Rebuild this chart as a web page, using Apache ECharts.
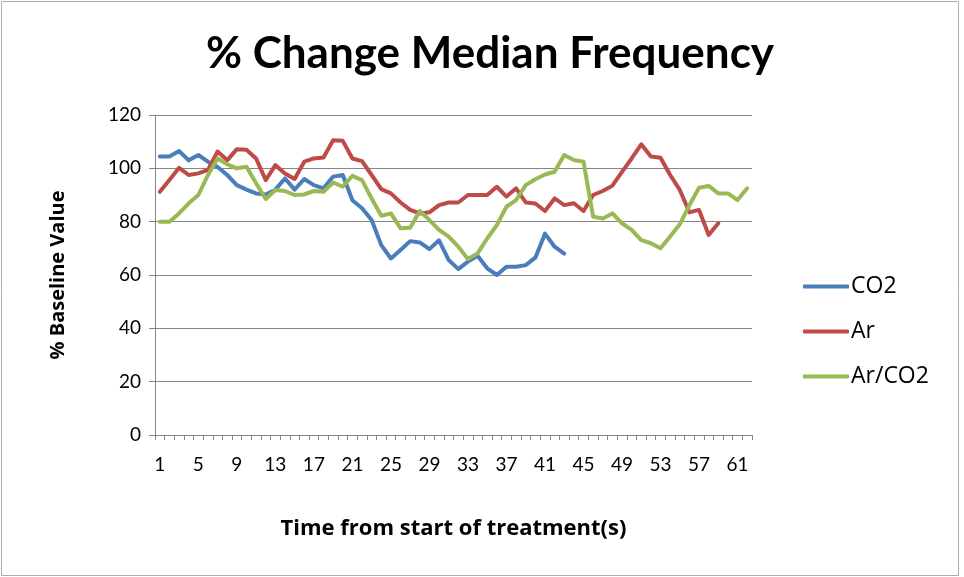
<!DOCTYPE html>
<html>
<head>
<meta charset="utf-8">
<script src="https://cdn.jsdelivr.net/npm/echarts@6/dist/echarts.min.js"></script>
<style>
html,body{margin:0;padding:0;background:#fff;}
#c{width:964px;height:577px;}
</style>
</head>
<body>
<div id="c"></div>
<script>
var categories = [];
for (var k = 1; k <= 62; k++) categories.push(String(k));

var co2 = [104.4,104.4,106.5,103,105,102.5,100.5,97.5,93.7,92,
  90.6,90.2,92,96.2,92,96,93.7,92.5,96.9,97.5,
  88,85,80.6,71.2,66.2,69.4,72.7,72.2,69.7,73,
  65.6,62.2,65,67.2,62.5,60,63.1,63.1,63.7,66.5,
  75.5,70.6,68];

var ar = [91.2,95.6,100.2,97.5,98.1,99.4,106.3,103,107.2,107,
  103.7,95.6,101.2,98.1,96,102.5,103.7,104.1,110.5,110.3,
  103.7,102.7,97.5,92.2,90.6,87.2,84.4,83.1,83.5,86.2,
  87.2,87.2,90,90,90,93.1,89.4,92.5,87.2,86.8,
  84,88.7,86.2,86.9,84,90,91.5,93.5,98.7,103.7,
  109,104.4,104,97.5,91.9,83.5,84.4,75,79.4];

var arCo2 = [80,80,83.1,86.9,90,97.5,103.7,101.5,100,100.6,
  94.4,88.5,91.9,91.5,90,90.2,91.5,91.2,94.7,93.1,
  97.2,95.6,88.7,82.2,83.1,77.5,77.7,84,80.6,76.9,
  74.4,70.6,66,68.1,73.7,78.7,85.6,88.1,93.7,95.9,
  97.7,98.7,105,103.1,102.5,81.9,81.2,83.1,79.4,76.9,
  73.1,71.9,70,74.4,79,86.2,92.7,93.4,90.6,90.6,
  88.1,92.5];

var seriesNames = ['CO2', 'Ar', 'Ar/CO2'];
var colors = ['#4A7EBB', '#BE4B48', '#98B954'];

var font = 'Lato, "Open Sans", sans-serif';
var wideFont = '"Open Sans", Lato, sans-serif';
var chart = echarts.init(document.getElementById('c'));

function mkSeries(name, data, color) {
  return {
    name: name, type: 'line', data: data, symbol: 'none',
    lineStyle: {width: 4, color: color, cap: 'round', join: 'round'},
    itemStyle: {color: color}
  };
}

chart.setOption({
  animation: false,
  backgroundColor: '#fff',
  title: {
    text: '% Change Median Frequency',
    left: 485, top: 27, textAlign: 'center',
    textStyle: {fontFamily: font, fontWeight: 'bold', fontSize: 44, color: '#000'}
  },
  legend: {
    orient: 'vertical', left: 798, top: 270, itemGap: 22,
    itemWidth: 46, itemHeight: 4,
    icon: 'roundRect',
    data: seriesNames,
    textStyle: {fontFamily: wideFont, fontSize: 23, color: '#000', padding: [0,0,0,-3]}
  },
  grid: {left: 155, right: 212, top: 115, bottom: 142},
  xAxis: {
    type: 'category', data: categories, boundaryGap: true,
    name: 'Time from start of treatment(s)', nameLocation: 'middle', nameGap: 83,
    nameTextStyle: {fontFamily: wideFont, fontWeight: 'bold', fontSize: 22, color: '#000'},
    axisLine: {lineStyle: {color: '#868686', width: 1}},
    axisTick: {show: true, interval: 0, length: 5, lineStyle: {color: '#868686'}},
    axisLabel: {interval: 3, fontFamily: font, fontSize: 19, color: '#000', margin: 20},
    splitLine: {show: false}
  },
  yAxis: {
    type: 'value', min: 0, max: 120, interval: 20,
    name: '% Baseline Value', nameLocation: 'middle', nameGap: 87, nameRotate: 90,
    nameTextStyle: {fontFamily: wideFont, fontWeight: 'bold', fontSize: 20, color: '#000'},
    axisLine: {show: true, lineStyle: {color: '#868686', width: 1}},
    axisTick: {show: true, length: 6, lineStyle: {color: '#868686'}},
    axisLabel: {fontFamily: font, fontSize: 19, color: '#000', margin: 14},
    splitLine: {lineStyle: {color: '#868686', width: 1}}
  },
  graphic: [{
    type: 'rect', shape: {x: 1.5, y: 1.5, width: 957, height: 574},
    style: {fill: 'none', stroke: '#b0b0b0', lineWidth: 1}, silent: true
  }],
  series: [
    mkSeries(seriesNames[0], co2, colors[0]),
    mkSeries(seriesNames[1], ar, colors[1]),
    mkSeries(seriesNames[2], arCo2, colors[2])
  ]
});
</script>
</body>
</html>
